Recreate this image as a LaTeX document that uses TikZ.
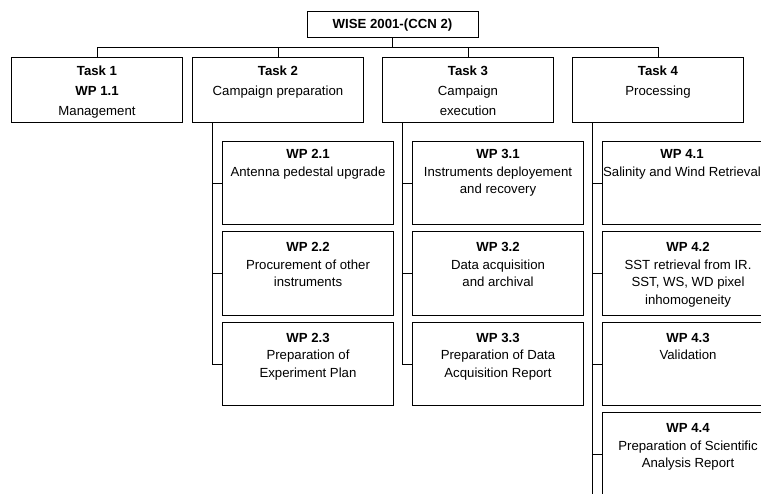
\documentclass[tikz,border=0pt]{standalone}
\usepackage{fontspec}
\setmainfont{Liberation Sans}
\usetikzlibrary{positioning}
\tikzstyle{every node}=[inner sep=0pt]
\tikzstyle{root}=[draw=black,minimum width=171pt,minimum height=26pt,font=\fontsize{13.2}{16}\selectfont\bfseries]
\tikzstyle{task}=[draw=black,minimum width=171pt,minimum height=65pt,anchor=north west]
\tikzstyle{wp}=[draw=black,minimum width=171pt,minimum height=83.5pt,anchor=north west]
\tikzstyle{tasktext}=[align=center,font=\fontsize{13.2}{20}\selectfont]
\tikzstyle{wptext}=[align=center,font=\fontsize{13.2}{17.5}\selectfont]

\begin{document}
\begin{tikzpicture}[x=1pt,y=-1pt,line width=1pt]
    \useasboundingbox (0,0) rectangle (761,494);
    \clip (0,0) rectangle (761,494);
    \node[root] (wise) at (392.5,25) {WISE 2001-(CCN 2)};
    % tasks
    \node[task] (task1) at (11,57) {};
    \node[task] (task2) at (192,57) {};
    \node[task] (task3) at (382,57) {};
    \node[task] (task4) at (572,57) {};
    \node[tasktext, below=8pt of task1.north] {\textbf{Task 1}\\\textbf{WP 1.1}\\Management};
    \node[tasktext, below=8pt of task2.north] {\textbf{Task 2}\\Campaign preparation};
    \node[tasktext, below=8pt of task3.north] {\textbf{Task 3}\\Campaign\\execution};
    \node[tasktext, below=8pt of task4.north] {\textbf{Task 4}\\Processing};
    \draw (wise.south) -- ++(0,9) -| (task1.north);
    \draw (wise.south) -- ++(0,9) -| (task2.north);
    \draw (wise.south) -- ++(0,9) -| (task3.north);
    \draw (wise.south) -- ++(0,9) -| (task4.north);
    % work packages of task 2
    \node[wp] (wp21) at (222,141) {};
    \node[wp] (wp22) at (222,231.5) {};
    \node[wp] (wp23) at (222,322) {};
    \node[wptext, below=8pt of wp21.north] {\textbf{WP 2.1}\\Antenna pedestal upgrade};
    \node[wptext, below=10.5pt of wp22.north] {\textbf{WP 2.2}\\Procurement of other\\instruments};
    \node[wptext, below=10.5pt of wp23.north] {\textbf{WP 2.3}\\Preparation of\\Experiment Plan};
    % work packages of task 3
    \node[wp] (wp31) at (412,141) {};
    \node[wp] (wp32) at (412,231.5) {};
    \node[wp] (wp33) at (412,322) {};
    \node[wptext, below=8pt of wp31.north] {\textbf{WP 3.1}\\Instruments deployement\\and recovery};
    \node[wptext, below=10.5pt of wp32.north] {\textbf{WP 3.2}\\Data acquisition\\and archival};
    \node[wptext, below=10.5pt of wp33.north] {\textbf{WP 3.3}\\Preparation of Data\\Acquisition Report};
    % work packages of task 4
    \node[wp] (wp41) at (602,141) {};
    \node[wp] (wp42) at (602,231.5) {};
    \node[wp] (wp43) at (602,322) {};
    \node[wp] (wp44) at (602,412.5) {};
    \node[wptext, below=8pt of wp41.north, xshift=-6pt] {\textbf{WP 4.1}\\Salinity and Wind Retrieval};
    \node[wptext, below=10.5pt of wp42.north] {\textbf{WP 4.2}\\SST retrieval from IR.\\SST, WS, WD pixel\\inhomogeneity};
    \node[wptext, below=10.5pt of wp43.north] {\textbf{WP 4.3}\\Validation};
    \node[wptext, below=10.5pt of wp44.north] {\textbf{WP 4.4}\\Preparation of Scientific\\Analysis Report};
    % connectors to work packages
    \draw ([xshift=20pt]task2.south west) |- (wp21.west);
    \draw ([xshift=20pt]task2.south west) |- (wp22.west);
    \draw ([xshift=20pt]task2.south west) |- (wp23.west);
    \draw ([xshift=20pt]task3.south west) |- (wp31.west);
    \draw ([xshift=20pt]task3.south west) |- (wp32.west);
    \draw ([xshift=20pt]task3.south west) |- (wp33.west);
    \draw ([xshift=20pt]task4.south west) |- (wp41.west);
    \draw ([xshift=20pt]task4.south west) |- (wp42.west);
    \draw ([xshift=20pt]task4.south west) |- (wp43.west);
    \draw ([xshift=20pt]task4.south west) |- (wp44.west);
    \draw ([xshift=20pt]task4.south west) -- ++(0,372) coordinate (tail4);
\end{tikzpicture}
\end{document}
